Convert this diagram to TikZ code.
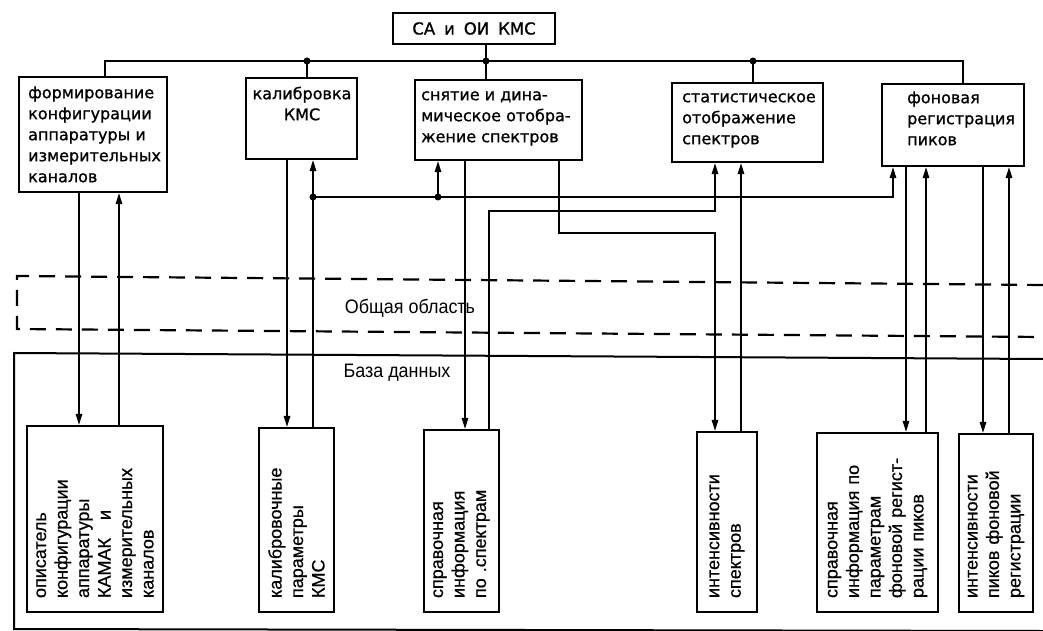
\documentclass[tikz,border=0pt]{standalone}
\usepackage{fontspec}
\setmainfont{DejaVu Sans}[FakeBold=1]
\newfontfamily\bfont{Liberation Sans}[FakeBold=0.6]
\newfontfamily\lfont{Liberation Sans}[FakeStretch=0.92]
\usetikzlibrary{arrows.meta}
\begin{document}
\begin{tikzpicture}[x=1pt,y=-1pt,
  box/.style={draw, line width=2.3pt, inner sep=0pt},
  ttext/.style={anchor=north west, align=left, inner sep=0pt, font=\fontsize{16}{21}\selectfont},
  bbox/.style={draw, line width=2.3pt, rotate=90, align=left, inner xsep=14pt, inner ysep=0pt,
    font=\bfont\fontsize{18}{21.5}\selectfont},
  conn/.style={line width=1.5pt},
  arr/.style={conn, -{Triangle[length=11pt,width=6.5pt]}},
  dot/.style={circle, fill, inner sep=0pt, minimum size=7pt},
  lbl/.style={font=\lfont\fontsize{19.5}{22}\selectfont, inner sep=0pt},
  area/.style={line width=2.2pt, dash pattern=on 16pt off 10pt}
]
\useasboundingbox (0,0) rectangle (1043,631);

% top box
\node[box, minimum width=162pt, minimum height=31pt, font=\fontsize{16.5}{18}\selectfont] (T) at (474,28.5) {СА\hspace{9pt}и\hspace{9pt}ОИ\hspace{9pt}КМС};

% top row boxes
\node[box, minimum width=148pt, minimum height=115pt] (A1) at (93,134.5) {};
\node[box, minimum width=111pt, minimum height=81pt] (A2) at (301.5,118.5) {};
\node[box, minimum width=167pt, minimum height=80pt] (A3) at (498.5,120) {};
\node[box, minimum width=151pt, minimum height=79pt] (A4) at (747.5,122.5) {};
\node[box, minimum width=142pt, minimum height=82pt] (A5) at (953,125) {};

\node[ttext] (A1t) at (28,83.3) {\strut формирование\\конфигурации\\аппаратуры и\\измерительных\\каналов};
\node[ttext, anchor=north, align=center] (A2t) at (302,84.3) {\strut калибровка\\КМС};
\node[ttext] (A3t) at (421,85.3) {\strut снятие и дина-\\мическое отобра-\\жение спектров};
\node[ttext] (A4t) at (682,87.3) {\strut статистическое\\отображение\\спектров};
\node[ttext] (A5t) at (907,88.3) {\strut фоновая\\регистрация\\пиков};

% bottom boxes (rotated text)
\node[bbox, minimum height=136pt, text width=158pt] (B1) at (95,519) {описатель\\конфигурации\\аппаратуры\\КАМАК\ \ \ и\\измерительных\\каналов};
\node[bbox, minimum height=75pt, text width=156pt] (B2) at (296.5,520) {калибровочные\\параметры\\КМС};
\node[bbox, minimum height=75pt, text width=154pt] (B3) at (461.5,521) {справочная\\информация\\по .спектрам};
\node[bbox, minimum height=60pt, text width=152pt] (B4) at (727,522) {интенсивности\\спектров};
\node[bbox, minimum height=121pt, text width=151pt] (B5) at (877.5,522.5) {справочная\\информация по\\параметрам\\фоновой регист-\\рации пиков};
\node[bbox, minimum height=74pt, text width=150pt] (B6) at (996,523) {интенсивности\\пиков фоновой\\регистрации};

% common area and database
\draw[area] (1043,285) -- (17,276) -- (17,329) -- (1043,337);
\node[lbl] (ga) at (410,308) {Общая область};
\draw[line width=2pt] (1043,359) -- (14,353) -- (14,629) -- (1043,631);
\node[lbl] (db) at (397,373) {База данных};

% coordinates
\coordinate (jb) at (486,61);
\coordinate (jL) at (105,61);
\coordinate (jR) at (963,61);
\coordinate (j2) at (307,61);
\coordinate (j4) at (753,61);
\coordinate (k1) at (313,197);
\coordinate (k2) at (438,197);
\coordinate (k3) at (893,197);
\coordinate (m1) at (489,211);
\coordinate (m2) at (715,211);
\coordinate (n1) at (559,233);
\coordinate (n2) at (715,233);
\coordinate (v1) at (79,0);
\coordinate (v2) at (119,0);
\coordinate (v3) at (287,0);
\coordinate (v6) at (465,0);
\coordinate (v10) at (741,0);
\coordinate (v12) at (906,0);
\coordinate (v13) at (926,0);
\coordinate (v14) at (983,0);
\coordinate (v15) at (1009,0);

% bus
\draw[conn] (T.south -| jb) -- (jb);
\draw[conn] (A1.north -| jL) -- (jL) -- (jR) -- (A5.north -| jR);
\draw[conn] (j2) -- (A2.north -| j2);
\draw[conn] (jb) -- (A3.north -| jb);
\draw[conn] (j4) -- (A4.north -| j4);
\node[dot] (d1) at (j2) {};
\node[dot] (d2) at (jb) {};
\node[dot] (d3) at (j4) {};

% flows
\draw[arr] (A1.south -| v1) -- (B1.east -| v1);
\draw[arr] (B1.east -| v2) -- (A1.south -| v2);
\draw[arr] (A2.south -| v3) -- (B2.east -| v3);
\draw[arr] (B2.east -| k1) -- (A2.south -| k1);
\draw[arr] (k1) -- (k3) -- (A5.south -| k3);
\draw[arr] (k2) -- (A3.south -| k2);
\node[dot] (d4) at (k1) {};
\node[dot] (d5) at (k2) {};
\draw[arr] (A3.south -| v6) -- (B3.east -| v6);
\draw[arr] (B3.east -| m1) -- (m1) -- (m2) -- (A4.south -| m2);
\draw[arr] (A3.south -| n1) -- (n1) -- (n2) -- (B4.east -| n2);
\draw[arr] (B4.east -| v10) -- (A4.south -| v10);
\draw[arr] (A5.south -| v12) -- (B5.east -| v12);
\draw[arr] (B5.east -| v13) -- (A5.south -| v13);
\draw[arr] (A5.south -| v14) -- (B6.east -| v14);
\draw[arr] (B6.east -| v15) -- (A5.south -| v15);
\end{tikzpicture}
\end{document}
